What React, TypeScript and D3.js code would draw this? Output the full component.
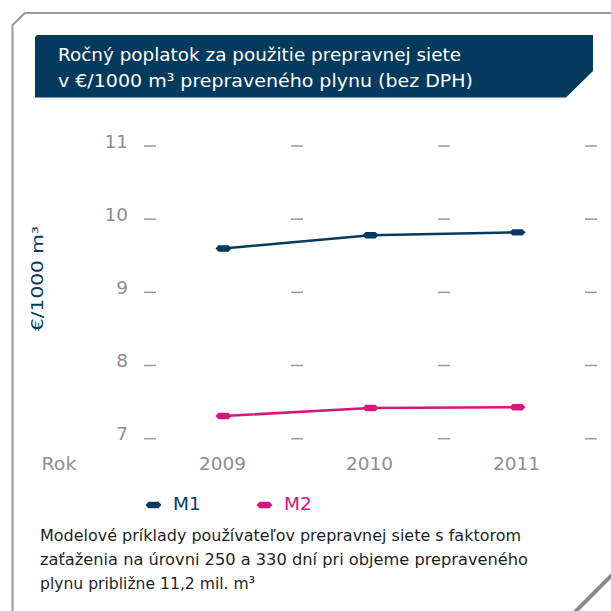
import React from "react";
import * as d3 from "d3";

const years: string[] = ["2009", "2010", "2011"];
const seriesNames: string[] = ["M1", "M2"];
const m1Values: number[] = [9.6, 9.78, 9.82];
const m2Values: number[] = [7.31, 7.42, 7.43];
const yTicks: number[] = [7, 8, 9, 10, 11];
const titleLines: string[] = [
  "Ročný poplatok za použitie prepravnej siete",
  "v €/1000 m³ prepraveného plynu (bez DPH)",
];
const yAxisLabel = "€/1000 m³";
const xAxisLabel = "Rok";
const noteLines: string[] = [
  "Modelové príklady používateľov prepravnej siete s faktorom",
  "zaťaženia na úrovni 250 a 330 dní pri objeme prepraveného",
  "plynu približne 11,2 mil. m³",
];

const NAVY = "#033a5e";
const PINK = "#d5177b";
const GRAY = "#8e8e8e";
const FONT = "'DejaVu Sans', 'Liberation Sans', sans-serif";

export default function App() {
  const W = 611;
  const H = 611;
  const y = d3.scaleLinear().domain([7, 11]).range([438.7, 146]);
  const x = d3.scaleBand<string>().domain(years).range([150, 591]).padding(0);
  const boundaries = [...years.map((yr) => x(yr) as number), 591];
  const cx = (yr: string) => (x(yr) as number) + x.bandwidth() / 2;

  const line = d3
    .line<number>()
    .x((_, i) => cx(years[i]))
    .y((v) => y(v));

  const series = [
    { name: seriesNames[0], values: m1Values, color: NAVY },
    { name: seriesNames[1], values: m2Values, color: PINK },
  ];

  const marker = "M-8,0 L-5,-3.2 L5,-3.2 L8,0 L5,3.2 L-5,3.2 Z";

  return (
    <svg
      width={W}
      height={H}
      style={{ position: "absolute", left: 0, top: 0, background: "#fff" }}
    >
      {/* frame */}
      <path
        d="M12.5,611 L12.5,25 L25,13 L611,13"
        fill="none"
        stroke="#9a9a9a"
        strokeWidth={2}
      />
      <line x1={612} y1={575} x2={575} y2={612} stroke="#8a8a8a" strokeWidth={4} />

      {/* title box */}
      <path d="M37,35 L593,35 L593,71 L566,97.5 L35,97.5 L35,37 Z" fill={NAVY} />
      <text x={58} y={61} fill="#fff" fontFamily={FONT} fontSize={18.5} textLength={403} lengthAdjust="spacingAndGlyphs">
        {titleLines[0]}
      </text>
      <text x={58} y={87} fill="#fff" fontFamily={FONT} fontSize={18.5} textLength={415} lengthAdjust="spacingAndGlyphs">
        {titleLines[1]}
      </text>

      {/* grid dashes */}
      {yTicks.map((t) =>
        boundaries.map((b, j) => (
          <line
            key={`${t}-${j}`}
            x1={b - 6}
            x2={b + 6}
            y1={y(t)}
            y2={y(t)}
            stroke="#9a9a9a"
            strokeWidth={1.5}
          />
        ))
      )}

      {/* y tick labels */}
      {yTicks.map((t) => (
        <text
          key={t}
          x={128}
          y={y(t) + 1.5}
          textAnchor="end"
          fill={GRAY}
          fontFamily={FONT}
          fontSize={18.5}
        >
          {t}
        </text>
      ))}

      {/* y axis label */}
      <text
        transform="translate(43,331) rotate(-90)"
        fill={NAVY}
        fontFamily={FONT}
        fontSize={15.5}
        textLength={105}
        lengthAdjust="spacingAndGlyphs"
      >
        {yAxisLabel}
      </text>

      {/* x labels */}
      <text x={41.5} y={469.5} fill={GRAY} fontFamily={FONT} fontSize={18.5} textLength={35} lengthAdjust="spacingAndGlyphs">
        {xAxisLabel}
      </text>
      {years.map((yr) => (
        <text
          key={yr}
          x={cx(yr) - 1}
          y={469.5}
          textAnchor="middle"
          fill={GRAY}
          fontFamily={FONT}
          fontSize={18.5}
        >
          {yr}
        </text>
      ))}

      {/* series */}
      {series.map((s) => (
        <g key={s.name}>
          <path d={line(s.values) as string} fill="none" stroke={s.color} strokeWidth={2.6} />
          {s.values.map((v, i) => (
            <path key={i} d={marker} transform={`translate(${cx(years[i])},${y(v)})`} fill={s.color} />
          ))}
        </g>
      ))}

      {/* legend */}
      <path d={marker} transform="translate(153.5,505)" fill={NAVY} />
      <text x={173} y={510} fill={NAVY} fontFamily={FONT} fontSize={18.5}>
        {seriesNames[0]}
      </text>
      <path d={marker} transform="translate(264.5,505)" fill={PINK} />
      <text x={284} y={510} fill={PINK} fontFamily={FONT} fontSize={18.5}>
        {seriesNames[1]}
      </text>

      {/* footnote */}
      <text x={40} y={541} fill="#1e1e1e" fontFamily={FONT} fontSize={16.5} textLength={481} lengthAdjust="spacingAndGlyphs">
        {noteLines[0]}
      </text>
      <text x={40} y={565} fill="#1e1e1e" fontFamily={FONT} fontSize={16.5} textLength={488} lengthAdjust="spacingAndGlyphs">
        {noteLines[1]}
      </text>
      <text x={40} y={589} fill="#1e1e1e" fontFamily={FONT} fontSize={16.5} textLength={215} lengthAdjust="spacingAndGlyphs">
        {noteLines[2]}
      </text>
    </svg>
  );
}
